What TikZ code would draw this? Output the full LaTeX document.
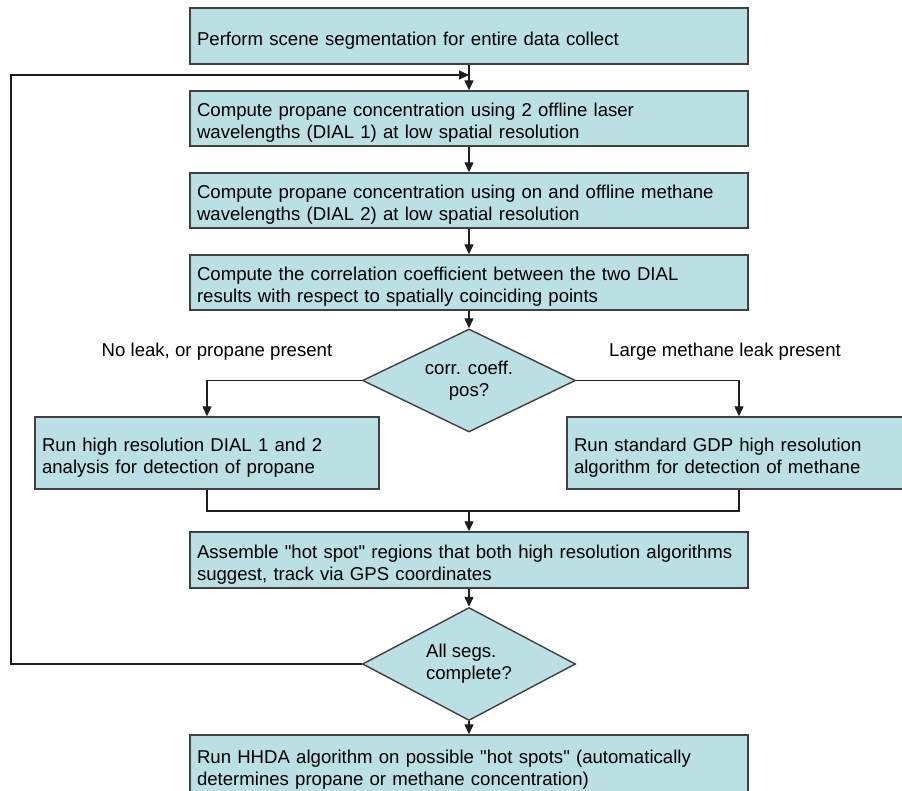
\documentclass[tikz,border=0pt]{standalone}
\usepackage{fontspec}
\setmainfont{Liberation Sans}[Ligatures=TeXOff]
\usetikzlibrary{shapes.geometric,arrows.meta}
\definecolor{boxfill}{RGB}{186,224,228}
\definecolor{boxline}{RGB}{64,64,64}
\definecolor{conn}{RGB}{30,30,30}
\newcommand{\topstrut}{\rule{0pt}{22pt}}
\tikzset{
  every node/.style={font=\fontsize{18.6}{22}\selectfont},
  procbox/.style={draw=boxline, line width=1.4pt, fill=boxfill, rectangle,
    inner xsep=7pt, inner ysep=0pt, align=left},
  widebox/.style={procbox, minimum width=558pt, text width=544pt},
  sidebox/.style={procbox, minimum width=344pt, text width=330pt, minimum height=72pt},
  decision/.style={draw=boxline, line width=1.4pt, fill=boxfill, diamond,
    shape aspect=2, inner sep=0pt, minimum width=213pt},
  conline/.style={draw=conn, line width=1.3pt},
  arr/.style={conline, -{Triangle[length=10pt,width=9pt]}},
  sidelabel/.style={inner sep=0pt}
}
\begin{document}
\begin{tikzpicture}[x=1pt,y=-1pt]
\useasboundingbox[fill=white] (0,0) rectangle (902,791);

\node[widebox, minimum height=56pt] (b1) at (469,36)
  {\topstrut Perform scene segmentation for entire data collect};
\node[widebox, minimum height=55pt] (b2) at (469,118.5)
  {\topstrut Compute propane concentration using 2 offline laser\\wavelengths (DIAL 1) at low spatial resolution};
\node[widebox, minimum height=55pt] (b3) at (469,200.5)
  {\topstrut Compute propane concentration using on and offline methane\\wavelengths (DIAL 2) at low spatial resolution};
\node[widebox, minimum height=55pt] (b4) at (469,282.5)
  {\topstrut Compute the correlation coefficient between the two DIAL\\results with respect to spatially coinciding points};
\node[decision, minimum height=103pt, align=center] (d1) at (469,380.5)
  {corr. coeff.\\pos?};
\node[sidelabel] (lno) at (217,352) {No leak, or propane present};
\node[sidelabel] (lyes) at (725,352) {Large methane leak present};
\node[sidebox] (bl) at (207,453)
  {\topstrut Run high resolution DIAL 1 and 2\\analysis for detection of propane};
\node[sidebox] (br) at (739,453)
  {\topstrut Run standard GDP high resolution\\algorithm for detection of methane};
\node[widebox, minimum height=56pt] (b5) at (469,560)
  {\topstrut Assemble "hot spot" regions that both high resolution algorithms\\suggest, track via GPS coordinates};
\node[decision, minimum height=113pt, align=left] (d2) at (469,664)
  {All segs.\\complete?};
\node[widebox, minimum height=60pt] (b6) at (469,765)
  {\topstrut Run HHDA algorithm on possible "hot spots" (automatically\\determines propane or methane concentration)};

\coordinate (loopin) at (469,75);
\coordinate (lc) at (11,75);
\coordinate (join) at (469,511);

\draw[arr] (b1.south) -- (b2.north);
\draw[arr] (b2.south) -- (b3.north);
\draw[arr] (b3.south) -- (b4.north);
\draw[arr] (b4.south) -- (d1.north);
\draw[arr] (d1.west) -| (bl.north);
\draw[arr] (d1.east) -| (br.north);
\draw[conline] (bl.south) |- (join) -| (br.south);
\draw[arr] (join) -- (b5.north);
\draw[arr] (b5.south) -- (d2.north);
\draw[arr] (d2.south) -- (b6.north);
\draw[arr] (d2.west) -| (lc) -- (loopin);
\end{tikzpicture}
\end{document}
